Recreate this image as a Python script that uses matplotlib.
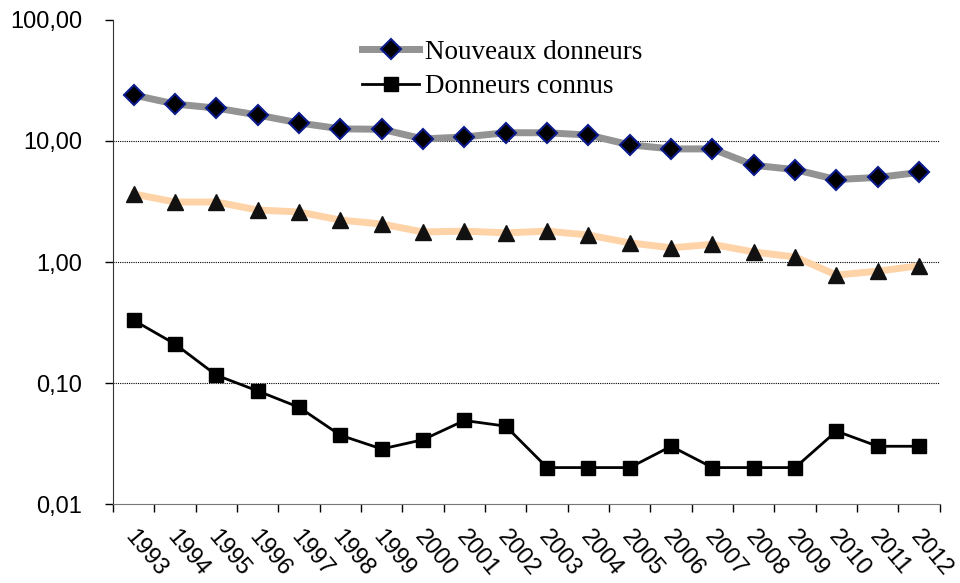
import matplotlib
matplotlib.use("Agg")
import matplotlib.pyplot as plt
import matplotlib.transforms as mtransforms
from matplotlib.ticker import FixedLocator, FuncFormatter, NullFormatter

years = [str(y) for y in range(1993, 2013)]

# Nouveaux donneurs
nouveaux = [24.0, 20.2, 18.7, 16.4, 14.1, 12.6, 12.5, 10.4, 10.8, 11.7,
            11.7, 11.2, 9.3, 8.6, 8.6, 6.3, 5.8, 4.8, 5.0, 5.5]
# serie sans legende (triangles)
autres = [3.65, 3.13, 3.13, 2.69, 2.59, 2.22, 2.06, 1.77, 1.80, 1.74,
          1.80, 1.67, 1.44, 1.31, 1.40, 1.21, 1.10, 0.78, 0.84, 0.93]
# Donneurs connus
connus = [0.33, 0.21, 0.116, 0.086, 0.063, 0.037, 0.0285, 0.034, 0.049, 0.044,
          0.02, 0.02, 0.02, 0.03, 0.02, 0.02, 0.02, 0.04, 0.03, 0.03]

y_ticks = [0.01, 0.1, 1, 10, 100]


def main():
    fig = plt.figure(figsize=(9.6, 5.83), dpi=100)
    ax = fig.add_axes([0.1177, 0.1355, 0.979 - 0.1177, 0.9657 - 0.1355])

    x = list(range(len(years)))

    ax.plot(x, nouveaux, color="#939393", lw=5, marker="D", markersize=10,
            markerfacecolor="black", markeredgecolor="#0a1a8c", markeredgewidth=1.5,
            label="Nouveaux donneurs", zorder=3)
    ax.plot(x, autres, color="#ffd3a8", lw=5, marker="^", markersize=12,
            markerfacecolor="#111111", markeredgecolor="#111111", zorder=3)
    ax.plot(x, connus, color="black", lw=2, marker="s", markersize=10,
            markerfacecolor="black", markeredgecolor="black",
            label="Donneurs connus", zorder=3)

    ax.set_yscale("log")
    ax.set_ylim(0.01, 100)
    ax.set_xlim(-0.5, len(years) - 0.5)

    ax.yaxis.set_major_locator(FixedLocator(y_ticks))
    ax.yaxis.set_minor_locator(FixedLocator([]))
    ax.yaxis.set_major_formatter(FuncFormatter(lambda v, p: f"{v:.2f}".replace(".", ",")))
    ax.tick_params(axis="y", which="major", length=6, width=1, labelsize=17, pad=16)

    ax.set_xticks(x)
    ax.set_xticklabels(years, rotation=-50, ha="left", va="top",
                       rotation_mode="anchor", fontsize=17)
    ax.set_xticks([i - 0.5 for i in range(len(years) + 1)], minor=True)
    ax.xaxis.set_minor_formatter(NullFormatter())
    ax.tick_params(axis="x", which="major", length=0, pad=16)
    ax.tick_params(axis="x", which="minor", length=6, width=1)

    shift = mtransforms.ScaledTranslation(4 / 100, 0, fig.dpi_scale_trans)
    for lab in ax.get_xticklabels():
        lab.set_transform(lab.get_transform() + shift)

    for lab in ax.get_xticklabels() + ax.get_yticklabels():
        lab.set_fontfamily("Liberation Sans")

    for v in [0.1, 1, 10]:
        ax.axhline(v, color="black", lw=0.8, ls=(0, (1, 1)), zorder=1)

    ax.spines["top"].set_visible(False)
    ax.spines["right"].set_visible(False)
    ax.spines["left"].set_color("#333333")
    ax.spines["bottom"].set_color("#777777")

    ax.legend(loc="upper left", bbox_to_anchor=(0.272, 1.01), frameon=False,
              prop={"family": "Liberation Serif", "size": 19.5},
              handlelength=2.1, handletextpad=0.2, labelspacing=0.35)

    fig.savefig("out.png", dpi=100)


if __name__ == "__main__":
    main()
